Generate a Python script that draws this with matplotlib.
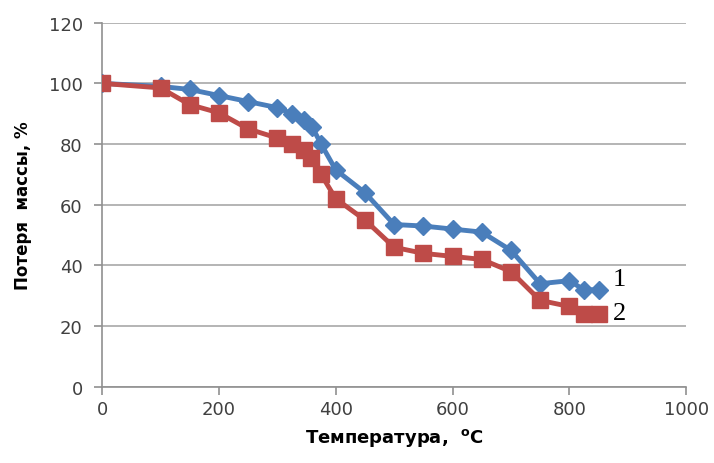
import matplotlib.pyplot as plt

# data
temp_1 = [0, 100, 150, 200, 250, 300, 325, 345, 360, 375, 400, 450, 500, 550, 600, 650, 700, 750, 800, 825, 850]
loss_1 = [100, 99, 98, 96, 94, 92, 90, 88, 85.5, 80, 71.5, 64, 53.5, 53, 52, 51, 45, 34, 35, 32, 32]
temp_2 = [0, 100, 150, 200, 250, 300, 325, 345, 357, 375, 400, 450, 500, 550, 600, 650, 700, 750, 800, 825, 850]
loss_2 = [100, 98.5, 93, 90.3, 85, 82, 80, 78, 75.5, 70, 62, 55, 46, 44, 43, 42, 38, 28.5, 26.5, 24, 24]

fig = plt.figure(figsize=(7.14, 4.64), dpi=100)
ax = fig.add_axes([0.143, 0.164, 0.818, 0.785])

ax.plot(temp_1, loss_1, color='#4A7EBB', lw=3.5, marker='D', ms=9, zorder=3)
ax.plot(temp_2, loss_2, color='#BE4B48', lw=3.5, marker='s', ms=12, zorder=3)

ax.text(875, 35.5, '1', fontsize=19, family='Liberation Serif', va='center')
ax.text(875, 24.5, '2', fontsize=19, family='Liberation Serif', va='center')

ax.set_xlim(0, 1000)
ax.set_ylim(0, 120)
ax.set_xticks(range(0, 1001, 200))
ax.set_yticks(range(0, 121, 20))
ax.grid(axis='y', color='#A8A8A8', lw=1.2)
ax.set_axisbelow(True)
for s in ['top', 'right']:
    ax.spines[s].set_visible(False)
for s in ['left', 'bottom']:
    ax.spines[s].set_color('#909090')
    ax.spines[s].set_linewidth(1.2)
ax.tick_params(colors='#909090', labelcolor='#404040', labelsize=13, length=6, width=1.2)
ax.tick_params(axis='y', pad=8)

ax.set_xlabel('Температура,  $\\mathbf{^{o}}$C', fontsize=13, fontweight='bold', labelpad=6)
ax.set_ylabel('Потеря  массы, %', fontsize=12, fontweight='bold', labelpad=12)

fig.savefig('out.png', dpi=100)
